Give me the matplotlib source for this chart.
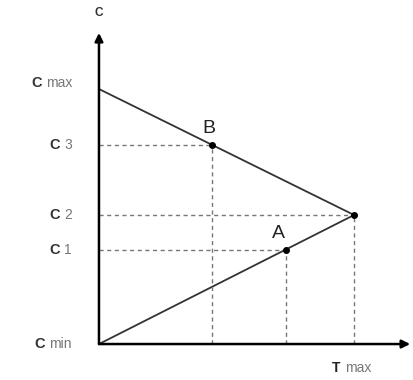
import matplotlib.pyplot as plt

plt.rcParams['font.family'] = ['Liberation Sans', 'DejaVu Sans']

# valores (escala 0..1)
c_min, c1, c2, c3, c_max = 0.0, 0.37, 0.506, 0.78, 1.0
t_max = 1.0
b_t = 0.443
a_t = 0.733
rotulos_c = ["min", "1", "2", "3", "max"]
valores_c = [c_min, c1, c2, c3, c_max]

fig = plt.figure(figsize=(4.14, 3.80), dpi=100)
ax = fig.add_axes([0, 0, 1, 1])
ax.set_xlim(-0.388, 1.235)
ax.set_ylim(-0.141, 1.349)
ax.axis('off')

cor = '#333333'

# eixos com setas
ax.annotate('', xy=(1.22, 0), xytext=(0, 0),
            arrowprops=dict(arrowstyle='-|>', color='black', lw=1.8, mutation_scale=12, shrinkA=0, shrinkB=0))
ax.annotate('', xy=(0, 1.22), xytext=(0, 0),
            arrowprops=dict(arrowstyle='-|>', color='black', lw=1.8, mutation_scale=12, shrinkA=0, shrinkB=0))

# linhas principais
ax.plot([0, t_max], [c_max, c2], color=cor, lw=1.3)
ax.plot([0, t_max], [c_min, c2], color=cor, lw=1.3)

# linhas tracejadas de referência
pontos = [(b_t, c3), (t_max, c2), (a_t, c1)]
for t, c in pontos:
    ax.plot([0, t], [c, c], color='#777777', lw=1, ls=(0, (3, 2.5)))
    ax.plot([t, t], [0, c], color='#777777', lw=1, ls=(0, (3, 2.5)))
ax.plot([p[0] for p in pontos], [p[1] for p in pontos], 'o', color='black', ms=4)

# rótulos dos pontos
ax.text(b_t - 0.012, c3 + 0.03, "B", fontsize=14, color='#222222', ha='center', va='bottom')
ax.text(a_t - 0.03, c1 + 0.03, "A", fontsize=14, color='#222222', ha='center', va='bottom')

# rótulos do eixo C: "C" em negrito + índice em cinza
fig.canvas.draw()
renderer = fig.canvas.get_renderer()

for rot, v in zip(rotulos_c, valores_c):
    y = v + 0.025 if rot == "max" else v
    t = ax.text(-0.106, y, rot, fontsize=10, color='#777777', ha='right', va='center')
    bb = t.get_window_extent(renderer)
    x0 = ax.transData.inverted().transform((bb.x0 - 4, 0))[0]
    ax.text(x0, y, "C", fontsize=10.5, color='#333333', fontweight='bold', ha='right', va='center')

ax.text(0, 1.298, "C", fontsize=8.5, color='#333333', fontweight='bold', ha='center', va='center')
ax.text(0.965, -0.095, "max", fontsize=10, color='#777777', ha='left', va='center')
ax.text(0.947, -0.095, "T", fontsize=10, color='#222222', fontweight='bold', ha='right', va='center')

fig.savefig('out.png', dpi=100)
